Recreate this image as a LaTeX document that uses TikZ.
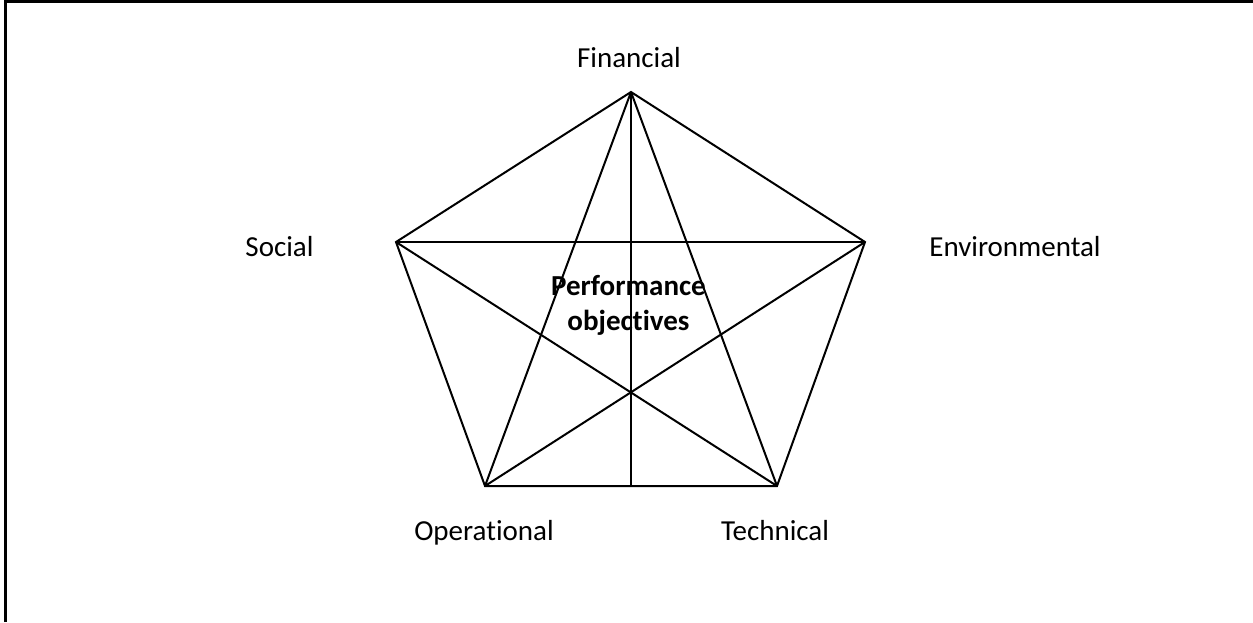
\documentclass[tikz,border=0pt]{standalone}
\usepackage{fontspec}
\setmainfont[Ligatures=NoCommon]{Carlito}
\begin{document}
\begin{tikzpicture}[x=1pt, y=-1pt,
  lbl/.style={anchor=base, inner sep=0pt, font=\fontsize{29}{35}\selectfont},
  title/.style={anchor=base, inner sep=0pt, align=center,
    font=\fontsize{29}{35}\selectfont\bfseries},
  edge/.style={draw=black, line width=2pt, line join=miter}]
  \useasboundingbox (0,0) rectangle (1253,622);
  % frame: left and top rules
  \draw[line width=2.6pt] (5.5,622) -- (5.5,1.3) -- (1253,1.3);

  % pentagon corners
  \coordinate (fin) at (631,92);
  \coordinate (soc) at (396,242);
  \coordinate (env) at (865,242);
  \coordinate (ope) at (485,486);
  \coordinate (tec) at (777,486);
  \coordinate (mid) at (631,486);

  % outline
  \draw[edge] (fin) -- (env) -- (tec) -- (ope) -- (soc) -- cycle;
  % star of diagonals
  \draw[edge] (fin) -- (ope);
  \draw[edge] (fin) -- (tec);
  \draw[edge] (soc) -- (env);
  \draw[edge] (soc) -- (tec);
  \draw[edge] (env) -- (ope);
  \draw[edge] (fin) -- (mid);

  % labels
  \node[lbl] (lfin) at (629,67) {Financial};
  \node[lbl] (lsoc) at (279.5,256) {Social};
  \node[lbl] (lenv) at (1015,256) {Environmental};
  \node[lbl] (lope) at (484,540) {Operational};
  \node[lbl] (ltec) at (775,540) {Technical};
  % base anchor sits on the last line of a multi-line node
  \node[title] (perf) at (628.5,330) {Performance\\objectives};
\end{tikzpicture}
\end{document}
